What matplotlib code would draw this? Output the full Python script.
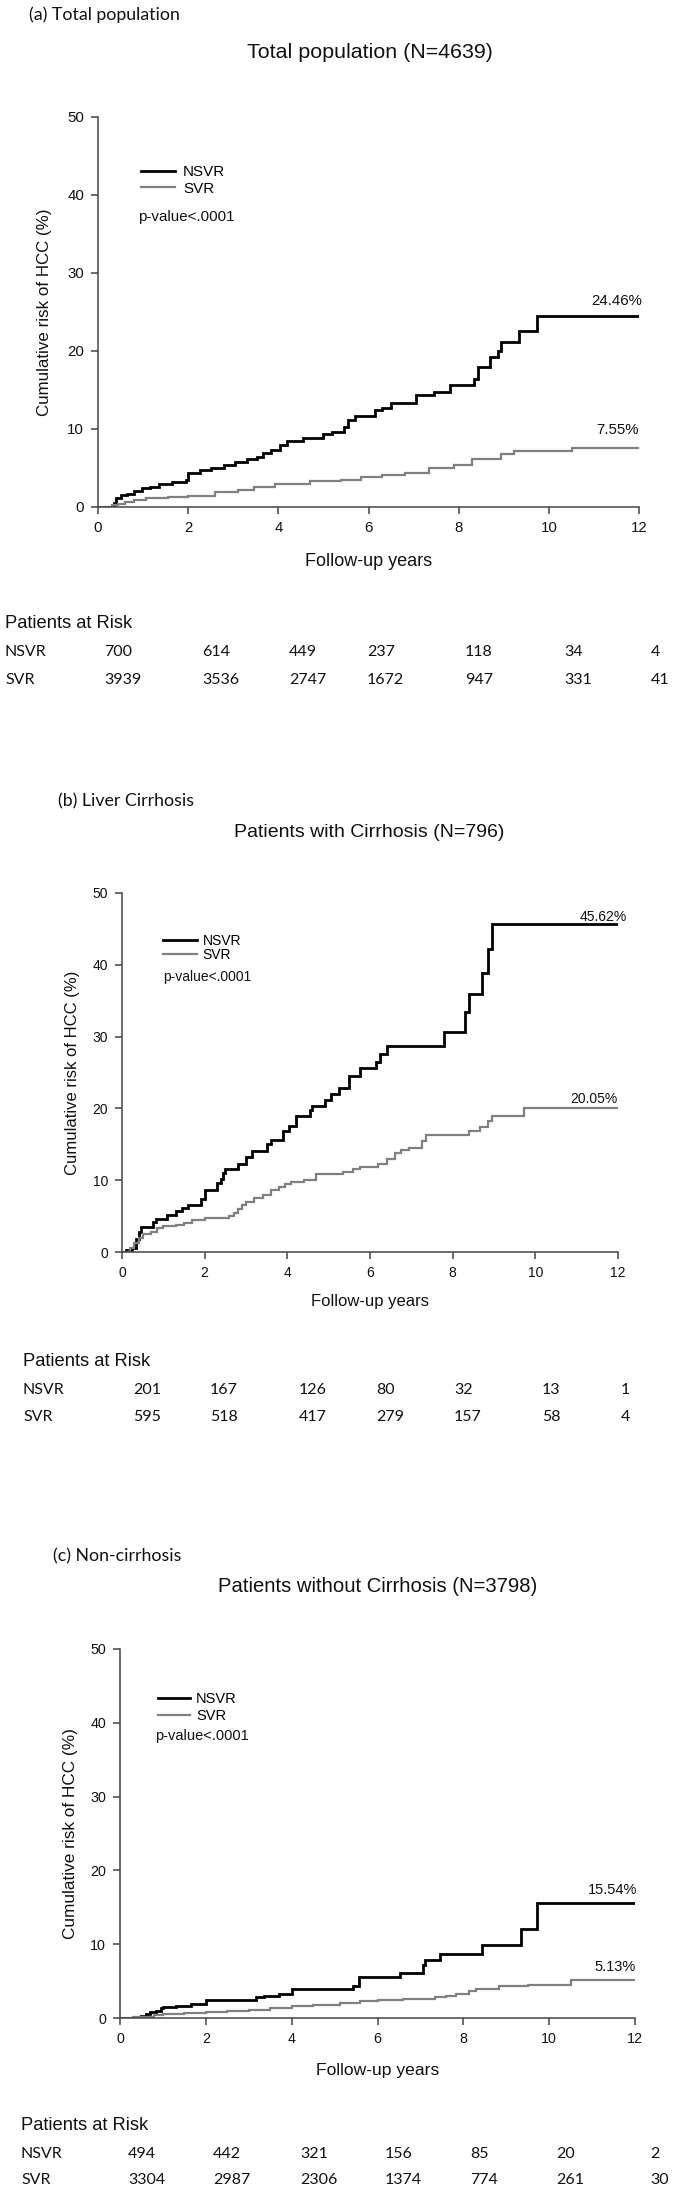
import matplotlib
matplotlib.use("Agg")
import matplotlib.pyplot as plt

W, H = 675, 2191

# ---- data (step points: years, cumulative %) ----
a_nsvr_x = [0, 0.35, 0.4, 0.52, 0.65, 0.8, 0.97, 1.15, 1.36, 1.64, 1.95, 2.0, 2.26, 2.5, 2.8, 3.03,
            3.3, 3.53, 3.65, 3.84, 4.03, 4.2, 4.55, 4.98, 5.2, 5.45, 5.55, 5.7, 6.15, 6.3, 6.5, 7.06,
            7.45, 7.8, 8.33, 8.42, 8.7, 8.88, 8.95, 9.33, 9.74, 12]
a_nsvr_y = [0, 0.5, 1.1, 1.5, 1.7, 2.0, 2.4, 2.6, 2.9, 3.2, 3.4, 4.3, 4.7, 5.0, 5.4, 5.8,
            6.1, 6.4, 6.9, 7.3, 7.9, 8.4, 8.85, 9.3, 9.6, 10.2, 11.1, 11.7, 12.4, 12.75, 13.3, 14.4,
            14.8, 15.6, 16.4, 18.0, 19.2, 20.0, 21.1, 22.6, 24.46, 24.46]
a_svr_x = [0, 0.3, 0.45, 0.6, 0.8, 1.07, 1.55, 2.0, 2.6, 3.1, 3.45, 3.93, 4.7, 5.4, 5.84, 6.3,
           6.8, 7.35, 7.9, 8.3, 8.95, 9.23, 10.52, 12]
a_svr_y = [0, 0.2, 0.4, 0.7, 0.9, 1.1, 1.3, 1.45, 1.9, 2.2, 2.6, 2.9, 3.35, 3.5, 3.8, 4.1,
           4.3, 4.95, 5.4, 6.1, 6.8, 7.15, 7.55, 7.55]

b_nsvr_x = [0, 0.1, 0.25, 0.35, 0.42, 0.47, 0.75, 0.83, 1.1, 1.3, 1.45, 1.6, 1.9, 2.0, 2.3, 2.4,
            2.45, 2.5, 2.8, 3.0, 3.15, 3.5, 3.6, 3.9, 4.05, 4.2, 4.55, 4.6, 4.9, 5.05, 5.25, 5.5,
            5.75, 6.15, 6.25, 6.4, 7.8, 8.3, 8.4, 8.7, 8.85, 8.96, 12]
b_nsvr_y = [0, 0.3, 0.6, 1.8, 2.8, 3.5, 4.15, 4.6, 5.1, 5.7, 6.1, 6.6, 7.4, 8.6, 9.6, 10.1,
            11.0, 11.5, 12.3, 13.2, 14.0, 15.1, 15.6, 16.8, 17.6, 19.0, 19.8, 20.4, 21.2, 22.0, 22.9, 24.5,
            25.6, 26.5, 27.6, 28.7, 30.6, 33.4, 35.9, 38.9, 42.2, 45.62, 45.62]
b_svr_x = [0, 0.2, 0.3, 0.4, 0.5, 0.7, 0.85, 1.0, 1.3, 1.5, 1.7, 2.0, 2.3, 2.6, 2.7, 2.8, 2.9,
           3.0, 3.2, 3.4, 3.6, 3.8, 3.95, 4.1, 4.4, 4.7, 5.35, 5.6, 5.75, 6.2, 6.4, 6.6, 6.75, 6.95,
           7.25, 7.35, 8.4, 8.65, 8.85, 8.95, 9.72, 12]
b_svr_y = [0, 0.5, 1.2, 2.0, 2.5, 2.8, 3.3, 3.6, 3.8, 4.1, 4.5, 4.7, 4.8, 5.0, 5.4, 6.0, 6.5,
           7.0, 7.5, 8.0, 8.6, 9.0, 9.5, 9.8, 10.0, 10.8, 11.1, 11.5, 11.9, 12.3, 13.0, 13.8, 14.2, 14.5,
           15.5, 16.3, 16.8, 17.4, 18.2, 19.0, 20.05, 20.05]

c_nsvr_x = [0, 0.4, 0.5, 0.6, 0.7, 0.85, 0.95, 1.0, 1.3, 1.65, 2.0, 3.16, 3.35, 3.7, 4.0, 5.42,
            5.57, 6.53, 7.05, 7.1, 7.45, 8.43, 9.34, 9.72, 12]
c_nsvr_y = [0, 0.1, 0.3, 0.6, 0.8, 1.0, 1.3, 1.5, 1.6, 1.9, 2.5, 2.8, 3.0, 3.3, 3.9, 4.4,
            5.5, 6.1, 7.2, 7.8, 8.7, 9.9, 12.1, 15.54, 15.54]
c_svr_x = [0, 0.3, 0.5, 0.8, 1.0, 1.5, 2.0, 2.5, 3.0, 3.5, 4.0, 4.5, 5.12, 5.6, 6.02, 6.6,
           7.33, 7.6, 7.83, 8.13, 8.3, 8.84, 9.5, 10.52, 12]
c_svr_y = [0, 0.1, 0.2, 0.4, 0.5, 0.7, 0.8, 1.0, 1.15, 1.3, 1.6, 1.8, 2.1, 2.3, 2.5, 2.6,
           2.8, 3.0, 3.3, 3.7, 3.9, 4.3, 4.5, 5.13, 5.13]

# patients at risk
a_risk_nsvr = [700, 614, 449, 237, 118, 34, 4]
a_risk_svr = [3939, 3536, 2747, 1672, 947, 331, 41]
b_risk_nsvr = [201, 167, 126, 80, 32, 13, 1]
b_risk_svr = [595, 518, 417, 279, 157, 58, 4]
c_risk_nsvr = [494, 442, 321, 156, 85, 20, 2]
c_risk_svr = [3304, 2987, 2306, 1374, 774, 261, 30]

group_names = ["NSVR", "SVR"]
panel_tags = ["(a) Total population", "(b) Liver Cirrhosis", "(c) Non-cirrhosis"]
panel_titles = ["Total population (N=4639)", "Patients with Cirrhosis (N=796)",
                "Patients without Cirrhosis (N=3798)"]
p_text = "p-value<.0001"

SANS = ["Liberation Sans", "DejaVu Sans"]
CAL = ["Lato", "DejaVu Sans"]
plt.rcParams["font.family"] = SANS

fig = plt.figure(figsize=(W / 100, H / 100), dpi=100)


def ptext(x, y, s, **kw):
    """Place text using pixel coords measured from the top-left corner."""
    kw.setdefault("va", "center")
    return fig.text(x / W, 1 - y / H, s, **kw)


def make_axes(left, right, top, bottom):
    return fig.add_axes([left / W, 1 - bottom / H, (right - left) / W, (bottom - top) / H])


# per-panel layout (pixels)
panels = [
    dict(box=(98, 639, 117, 507), nsvr=(a_nsvr_x, a_nsvr_y), svr=(a_svr_x, a_svr_y),
         risk=(a_risk_nsvr, a_risk_svr), tick_fs=10.8, lab_fs=12.2, xlab_fs=13, title_fs=15.4,
         leg_fs=10.9, leg_xy=(0.0795, 0.837), leg_sp=0.15, leg_hl=2.27, leg_tp=0.5,
         p_xy=(138, 217), ylab_x=-0.085, xlab_y=-0.118,
         end_off=[(3, 15), (0, 18)], end_fs=10.8,
         tag_xy=(29, 15), title_xy=(370, 52),
         risk_head=(5, 624), risk_rows=(652, 680),
         risk_cols=[5, 104, 202, 289, 367, 465, 564, 651]),
    dict(box=(122, 618, 893, 1252), nsvr=(b_nsvr_x, b_nsvr_y), svr=(b_svr_x, b_svr_y),
         risk=(b_risk_nsvr, b_risk_svr), tick_fs=10, lab_fs=12, xlab_fs=12, title_fs=14,
         leg_fs=10, leg_xy=(0.083, 0.847), leg_sp=0.05, leg_hl=2.45, leg_tp=0.4,
         p_xy=(163, 977), ylab_x=-0.085, xlab_y=-0.117,
         end_off=[(9, 7.5), (0, 9)], end_fs=10,
         tag_xy=(58, 801), title_xy=(369, 833),
         risk_head=(23, 1361), risk_rows=(1390, 1417),
         risk_cols=[23, 133, 210, 299, 376, 454, 542, 621]),
    dict(box=(120, 635, 1649, 2018), nsvr=(c_nsvr_x, c_nsvr_y), svr=(c_svr_x, c_svr_y),
         risk=(c_risk_nsvr, c_risk_svr), tick_fs=10.3, lab_fs=12.4, xlab_fs=12.6, title_fs=14.6,
         leg_fs=10.5, leg_xy=(0.074, 0.841), leg_sp=0.2, leg_hl=2.2, leg_tp=0.4,
         p_xy=(155, 1736), ylab_x=-0.082, xlab_y=-0.122,
         end_off=[(2, 13), (1, 13)], end_fs=10.5,
         tag_xy=(53, 1556), title_xy=(378, 1587),
         risk_head=(21, 2126), risk_rows=(2154, 2180),
         risk_cols=[21, 128, 213, 300, 385, 470, 556, 650]),
]

colors = ["#000000", "#808080"]
widths = [2.0, 1.6]
spine_col = "#444444"

for i, p in enumerate(panels):
    ax = make_axes(*p["box"])
    for (xs, ys), name, col, lw, off in zip([p["nsvr"], p["svr"]], group_names, colors, widths,
                                            p["end_off"]):
        ax.step(xs, ys, where="post", color=col, lw=lw, label=name, solid_joinstyle="miter")
        ax.annotate(f"{ys[-1]:.2f}%", xy=(xs[-1], ys[-1]), xytext=off,
                    textcoords="offset pixels", ha="right", va="center",
                    fontsize=p["end_fs"], color="#111111")

    ax.set_xlim(0, 12)
    ax.set_ylim(0, 50)
    ax.set_xticks(range(0, 13, 2))
    ax.set_yticks(range(0, 51, 10))
    for side in ["top", "right"]:
        ax.spines[side].set_visible(False)
    for side in ["left", "bottom"]:
        ax.spines[side].set_color(spine_col)
        ax.spines[side].set_linewidth(1.1)
    ax.tick_params(direction="out", length=5, width=1.1, color=spine_col,
                   labelsize=p["tick_fs"], pad=5, labelcolor="#111111")

    ax.set_ylabel("Cumulative risk of HCC (%)", fontsize=p["lab_fs"], color="#111111")
    ax.yaxis.set_label_coords(p["ylab_x"], 0.5)
    ax.set_xlabel("Follow-up years", fontsize=p["xlab_fs"], color="#111111")
    ax.xaxis.set_label_coords(0.5, p["xlab_y"])

    ax.legend(loc="center left", bbox_to_anchor=p["leg_xy"], frameon=False,
              fontsize=p["leg_fs"], borderpad=0, borderaxespad=0,
              labelspacing=p["leg_sp"], handlelength=p["leg_hl"], handletextpad=p["leg_tp"])
    ptext(*p["p_xy"], p_text, fontsize=p["leg_fs"], color="#111111")

    ptext(*p["tag_xy"], panel_tags[i], family=CAL, fontsize=12.8, color="#111111")
    ptext(*p["title_xy"], panel_titles[i], fontsize=p["title_fs"], ha="center", color="#111111")

    # patients at risk table
    ptext(*p["risk_head"], "Patients at Risk", fontsize=13.2, color="#111111")
    cols = p["risk_cols"]
    for name, counts, y in zip(group_names, p["risk"], p["risk_rows"]):
        ptext(cols[0], y, name, family=CAL, fontsize=11.5, color="#111111")
        for cx, n in zip(cols[1:], counts):
            ptext(cx, y, str(n), family=CAL, fontsize=11.5, color="#111111")

fig.savefig("out.png", dpi=100, facecolor="white")
